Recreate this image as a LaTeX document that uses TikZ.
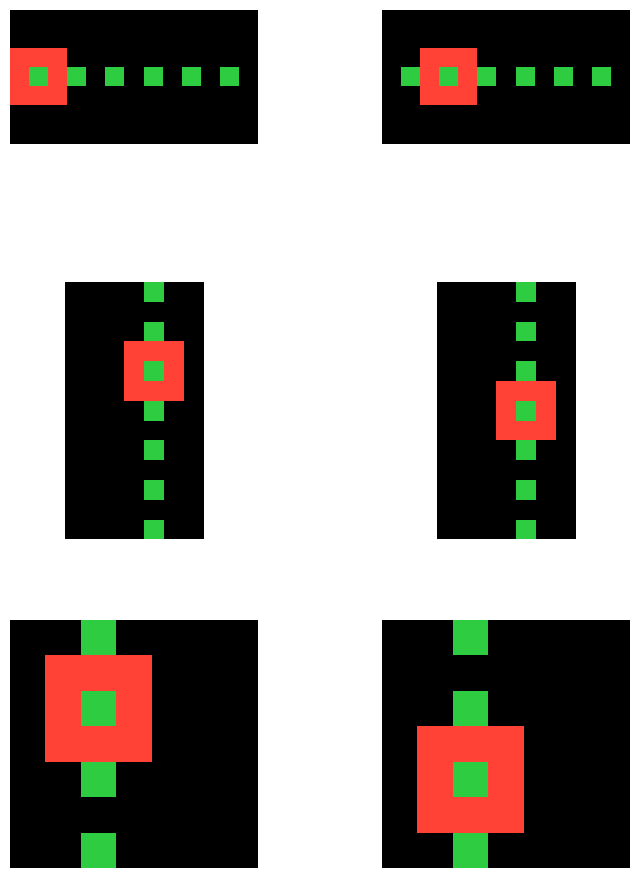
\documentclass[tikz,border=0pt]{standalone}
\usepackage{tikz}
\usetikzlibrary{positioning}
\usepackage{xcolor}
\definecolor{hit}{HTML}{FF4136}
\definecolor{dotc}{HTML}{2ECC40}
\begin{document}
\begin{tikzpicture}[x=0.03cm, y=-0.03cm,
  board/.style={fill=black},
  box/.style={fill=hit},
  dot/.style={fill=dotc}
]
\fill[white] (0,0) rectangle (639,878);
\useasboundingbox (0,0) rectangle (639,878);
% top row: 13 x 7
\begin{scope}[shift={(10,10)}, scale=19.08]
  \fill[board] (0,0) rectangle (13,7);
  \fill[box] (0,2) rectangle (3,5);
  \foreach \c in {1,3,...,11} \fill[dot] (\c,3) rectangle +(1,1);
\end{scope}
\begin{scope}[shift={(382,10)}, scale=19.08]
  \fill[board] (0,0) rectangle (13,7);
  \fill[box] (2,2) rectangle (5,5);
  \foreach \c in {1,3,...,11} \fill[dot] (\c,3) rectangle +(1,1);
\end{scope}
% middle row: 7 x 13
\begin{scope}[shift={(65,282)}, scale=19.8]
  \fill[board] (0,0) rectangle (7,13);
  \fill[box] (3,3) rectangle (6,6);
  \foreach \r in {0,2,...,12} \fill[dot] (4,\r) rectangle +(1,1);
\end{scope}
\begin{scope}[shift={(437,282)}, scale=19.8]
  \fill[board] (0,0) rectangle (7,13);
  \fill[box] (3,5) rectangle (6,8);
  \foreach \r in {0,2,...,12} \fill[dot] (4,\r) rectangle +(1,1);
\end{scope}
% bottom row: 7 x 7
\begin{scope}[shift={(10,620)}, scale=35.43]
  \fill[board] (0,0) rectangle (7,7);
  \fill[box] (1,1) rectangle (4,4);
  \foreach \r in {0,2,...,6} \fill[dot] (2,\r) rectangle +(1,1);
\end{scope}
\begin{scope}[shift={(382,620)}, scale=35.43]
  \fill[board] (0,0) rectangle (7,7);
  \fill[box] (1,3) rectangle (4,6);
  \foreach \r in {0,2,...,6} \fill[dot] (2,\r) rectangle +(1,1);
\end{scope}
\end{tikzpicture}
\end{document}
